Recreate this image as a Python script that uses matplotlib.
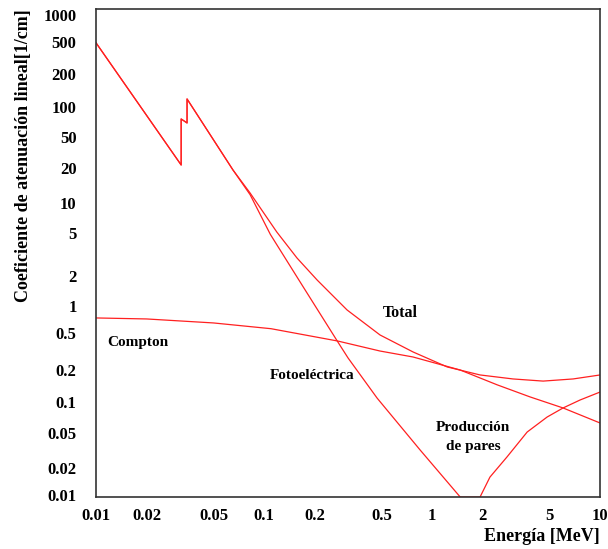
import numpy as np
import matplotlib
matplotlib.use('Agg')
import matplotlib.pyplot as plt
import matplotlib.transforms as mtransforms
from matplotlib.ticker import FixedLocator, FixedFormatter, NullFormatter

plt.rcParams['font.family'] = ['Liberation Serif', 'DejaVu Serif']
plt.rcParams['font.weight'] = 'bold'

# Datos (energia en MeV, coeficiente en 1/cm)
e_total = [0.01, 0.0321, 0.0321, 0.0348, 0.0348, 0.0653, 0.0826, 0.119, 0.157,
           0.207, 0.312, 0.490, 0.771, 1.23, 1.93, 3.03, 4.58, 6.91, 10]
mu_total = [449, 25.2, 74.6, 67.9, 119.6, 22.4, 13.0, 5.19, 2.81,
            1.67, 0.824, 0.457, 0.306, 0.215, 0.178, 0.162, 0.154, 0.162, 0.178]

e_foto = [0.01, 0.0321, 0.0321, 0.0348, 0.0348, 0.0653, 0.0826, 0.109, 0.171,
          0.275, 0.316, 0.471, 0.849, 1.47]
mu_foto = [449, 25.2, 74.6, 67.9, 119.6, 22.4, 12.5, 4.9, 1.42,
           0.387, 0.266, 0.103, 0.0303, 0.01]

e_compton = [0.01, 0.02, 0.05, 0.11, 0.275, 0.49, 0.77, 1.47, 2.44, 3.83, 6.02, 10]
mu_compton = [0.683, 0.667, 0.607, 0.53, 0.396, 0.313, 0.272, 0.200, 0.141,
              0.106, 0.0817, 0.0573]

e_pares = [1.47, 1.93, 2.21, 2.79, 3.68, 4.84, 6.02, 7.60, 10]
mu_pares = [0.01, 0.01, 0.016, 0.0257, 0.0463, 0.066, 0.0817, 0.0986, 0.119]

xticks = [0.01, 0.02, 0.05, 0.1, 0.2, 0.5, 1, 2, 5, 10]
xlabels = ['0.01', '0.02', '0.05', '0.1', '0.2', '0.5', '1', '2', '5', '10']
yticks = [0.01, 0.02, 0.05, 0.1, 0.2, 0.5, 1, 2, 5, 10, 20, 50, 100, 200, 500, 1000]
ylabels = ['0.01', '0.02', '0.05', '0.1', '0.2', '0.5', '1', '2', '5',
           '10', '20', '50', '100', '200', '500', '1000']
decadas = [0.1, 1, 10, 100]
# desplazamiento vertical (pt) de las etiquetas del eje y, como en el original
ydesp = [1.4, -0.3, -3.0, -1.9, 0, -1.3, -3.0, -2.6, 0.4, 0.7, 4.9, -0.7, 0, 2.3, -2.6, -4.3]

fig = plt.figure(figsize=(6.08, 5.49), dpi=100)
ax = fig.add_axes([0.158, 0.0947, 0.829, 0.889])

for x, y in [(e_total, mu_total), (e_foto, mu_foto), (e_compton, mu_compton), (e_pares, mu_pares)]:
    ax.plot(x, y, color='#ff2020', lw=0.9)

ax.set_xscale('log')
ax.set_yscale('log')
ax.set_xlim(0.01, 10)
ax.set_ylim(0.01, 1000)

ax.xaxis.set_major_locator(FixedLocator(xticks))
ax.xaxis.set_major_formatter(FixedFormatter(xlabels))
ax.xaxis.set_minor_locator(FixedLocator([]))
ax.yaxis.set_major_locator(FixedLocator(yticks))
ax.yaxis.set_major_formatter(FixedFormatter(ylabels))
ax.yaxis.set_minor_locator(FixedLocator(decadas))
ax.yaxis.set_minor_formatter(NullFormatter())

ax.tick_params(axis='x', which='major', length=0, pad=8, labelsize=12)
ax.tick_params(axis='y', which='major', length=0, pad=14, labelsize=12)
ax.tick_params(axis='y', which='minor', length=8, direction='inout', width=1, color='#333333')
for s in ax.spines.values():
    s.set_color('#333333')
    s.set_linewidth(1.2)

for tick, d in zip(ax.yaxis.get_major_ticks(), ydesp):
    lab = tick.label1
    lab.set_transform(lab.get_transform() + mtransforms.ScaledTranslation(0, d / 72, fig.dpi_scale_trans))

ax.set_xlabel('Energía [MeV]', fontsize=13, fontweight='bold', loc='right')
ax.xaxis.set_label_coords(1.0, -0.064)
ax.set_ylabel('Coeficiente de atenuación lineal[1/cm]', fontsize=13, fontweight='bold', loc='top')
ax.yaxis.set_label_coords(-0.128, 1.0)

ax.text(0.646, 0.767, 'Total', fontsize=11.5, ha='center', va='center')
ax.text(0.0178, 0.387, 'Compton', fontsize=11, ha='center', va='center')
ax.text(0.193, 0.174, 'Fotoeléctrica', fontsize=11, ha='center', va='center')
ax.text(1.75, 0.0412, 'Producción\nde pares', fontsize=11, ha='center', va='center', linespacing=1.6)

fig.savefig('out.png', dpi=100)
